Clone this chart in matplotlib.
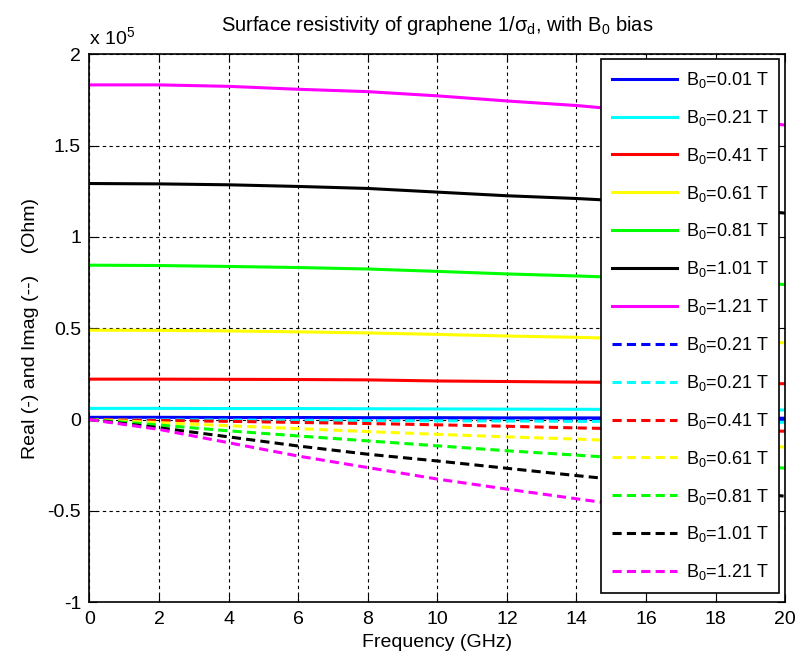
import numpy as np
import matplotlib
matplotlib.use("Agg")
import matplotlib.pyplot as plt
from matplotlib.ticker import FuncFormatter

plt.rcParams['font.family'] = ['Liberation Sans', 'DejaVu Sans']
plt.rcParams['mathtext.default'] = 'regular'

# frequency samples (GHz)
freq = [0, 2, 4, 6, 8, 10, 12, 14, 16, 18, 20]

b0_labels = ['0.01', '0.21', '0.41', '0.61', '0.81', '1.01', '1.21']
imag_labels = ['0.21', '0.21', '0.41', '0.61', '0.81', '1.01', '1.21']
colors = ['#0000ff', '#00ffff', '#ff0000', '#ffff00', '#00ff00', '#000000', '#ff00ff']

# real part of 1/sigma_d, in units of 1e5 Ohm
real_part = [
    [0.012, 0.012, 0.011, 0.011, 0.010, 0.010, 0.009, 0.009, 0.008, 0.008, 0.007],
    [0.061, 0.061, 0.060, 0.060, 0.059, 0.058, 0.057, 0.056, 0.055, 0.054, 0.052],
    [0.221, 0.221, 0.220, 0.219, 0.217, 0.211, 0.208, 0.205, 0.202, 0.199, 0.196],
    [0.489, 0.488, 0.485, 0.480, 0.474, 0.466, 0.457, 0.450, 0.440, 0.431, 0.420],
    [0.845, 0.843, 0.838, 0.832, 0.824, 0.811, 0.797, 0.786, 0.773, 0.757, 0.739],
    [1.292, 1.290, 1.285, 1.276, 1.265, 1.245, 1.225, 1.210, 1.190, 1.162, 1.130],
    [1.832, 1.832, 1.824, 1.808, 1.795, 1.772, 1.744, 1.719, 1.685, 1.650, 1.612],
]

# imaginary part of 1/sigma_d, in units of 1e5 Ohm
imag_part = [
    [0, -0.001, -0.001, -0.002, -0.002, -0.003, -0.003, -0.004, -0.004, -0.005, -0.005],
    [0, -0.002, -0.003, -0.004, -0.006, -0.007, -0.008, -0.010, -0.011, -0.013, -0.015],
    [0, -0.005, -0.010, -0.016, -0.022, -0.029, -0.037, -0.046, -0.053, -0.058, -0.064],
    [0, -0.017, -0.034, -0.050, -0.066, -0.081, -0.095, -0.107, -0.123, -0.137, -0.151],
    [0, -0.030, -0.062, -0.090, -0.117, -0.144, -0.171, -0.195, -0.220, -0.243, -0.266],
    [0, -0.045, -0.095, -0.145, -0.190, -0.227, -0.267, -0.307, -0.345, -0.383, -0.420],
    [0, -0.054, -0.127, -0.200, -0.263, -0.326, -0.381, -0.434, -0.487, -0.540, -0.593],
]

fig = plt.figure(figsize=(7.98, 6.61), dpi=100)
ax = fig.add_axes([0.112, 0.089, 0.872, 0.829])

for vals, c, lab in zip(real_part, colors, b0_labels):
    ax.plot(freq, np.array(vals) * 1e5, color=c, lw=2.2,
            label='B$_0$=%s T' % lab)
for vals, c, lab in zip(imag_part, colors, imag_labels):
    ax.plot(freq, np.array(vals) * 1e5, color=c, lw=2.2, dashes=(3.0, 1.7),
            label='B$_0$=%s T' % lab)

ax.set_xlim(0, 20)
ax.set_ylim(-1e5, 2e5)
ax.set_xticks(np.arange(0, 21, 2))
ax.set_yticks(np.arange(-1e5, 2.01e5, 0.5e5))
ax.yaxis.set_major_formatter(FuncFormatter(lambda v, p: '%g' % (v / 1e5)))
ax.tick_params(direction='in', length=6, top=True, right=True,
               labelsize=14, pad=6)
ax.grid(True, color='k', lw=0.8, dashes=(3, 3))
for s in ax.spines.values():
    s.set_linewidth(1.2)

ax.text(0.0, 1.012, 'x 10$^5$', transform=ax.transAxes, fontsize=14,
        ha='left', va='bottom')
ax.set_title('Surface resistivity of graphene 1/$\\sigma_d$, with B$_0$ bias',
             fontsize=14.5, pad=17)
ax.set_xlabel('Frequency (GHz)', fontsize=14, labelpad=5)
ax.set_ylabel('Real (-) and Imag (--)    (Ohm)', fontsize=14, labelpad=6)

leg = ax.legend(loc='upper left', bbox_to_anchor=(0.735, 0.991),
                borderaxespad=0, fontsize=13, handlelength=3.6,
                labelspacing=0.99, fancybox=False, framealpha=1,
                edgecolor='k', borderpad=0.6, handletextpad=0.5)
leg.get_frame().set_linewidth(1.2)

fig.savefig('out.png', dpi=100)
